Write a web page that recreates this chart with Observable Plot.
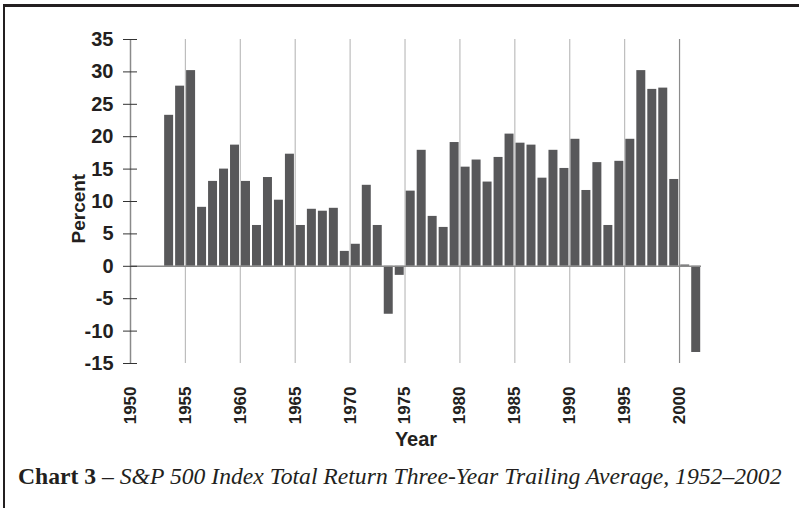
<!DOCTYPE html>
<html><head><meta charset="utf-8">
<script src="https://cdn.jsdelivr.net/npm/d3@7"></script>
<script src="https://cdn.jsdelivr.net/npm/@observablehq/plot@0.6"></script>
<style>
html,body{margin:0;padding:0;background:#fff;}
#wrap{position:relative;width:799px;height:508px;overflow:hidden;}
#frame{position:absolute;left:3px;top:4px;width:820px;height:520px;border-top:3px solid #231f20;border-left:2px solid #231f20;box-sizing:border-box;}
#chart{position:absolute;left:0;top:0;}
#caption{position:absolute;left:18px;top:469px;font-family:"Liberation Serif",serif;font-size:19px;line-height:1;color:#231f20;white-space:nowrap;}
</style></head>
<body><div id="wrap"><div id="chart"></div><div id="frame"></div><div id="caption"><span id="cap"><b>Chart 3</b> – <i>S&amp;P 500 Index Total Return Three-Year Trailing Average, 1952–2002</i></span></div></div>
<script>
// Year = last year of the three-year trailing window
const years = [1954,1955,1956,1957,1958,1959,1960,1961,1962,1963,
  1964,1965,1966,1967,1968,1969,1970,1971,1972,1973,
  1974,1975,1976,1977,1978,1979,1980,1981,1982,1983,
  1984,1985,1986,1987,1988,1989,1990,1991,1992,1993,
  1994,1995,1996,1997,1998,1999,2000,2001,2002];
const returns = [23.3,27.8,30.2,9.1,13.1,15.0,18.7,13.1,6.3,13.7,
  10.2,17.3,6.3,8.8,8.5,8.95,2.3,3.4,12.5,6.3,
  -7.4,-1.4,11.6,17.9,7.7,6.0,19.1,15.3,16.4,13.0,
  16.8,20.4,19.0,18.7,13.6,17.9,15.1,19.6,11.7,16.0,
  6.3,16.2,19.6,30.2,27.3,27.5,13.4,0.2,-13.3];
const xTicks = [1950,1955,1960,1965,1970,1975,1980,1985,1990,1995,2000];
const yTicks = [-15,-10,-5,0,5,10,15,20,25,30,35];
const xLabel = "Year";
const yLabel = "Percent";

const data = years.map((year, i) => ({year, value: returns[i]}));

const chart = Plot.plot({
  width: 799, height: 450,
  marginLeft: 130, marginRight: 98, marginTop: 39, marginBottom: 87,
  x: {domain: [1950, 2002]},
  y: {domain: [-15, 35]},
  style: {fontFamily: "'Liberation Sans', Arial, sans-serif", color: "#231f20", background: "transparent"},
  marks: [
    Plot.ruleX(xTicks.slice(1), {y1: -15, y2: 35, stroke: d => d === 2000 ? "#8c8c8c" : "#bdbdbd", strokeWidth: 1.2}),
    Plot.rect(data, {x1: d => d.year - 1, x2: d => d.year, y1: 0, y2: "value", fill: "#58585a", insetLeft: 1.2, insetRight: 0.8}),
    Plot.ruleY([0], {stroke: "#8a8a8a", strokeWidth: 1.5}),
    Plot.ruleX([1950], {y1: -15, y2: 35, stroke: "#8a8a8a", strokeWidth: 1.5}),
    Plot.axisY({ticks: yTicks, tickSize: 14, dx: 7, tickPadding: 10, tickFormat: d => String(d), fontSize: 20, fontWeight: "bold", stroke: "#333", label: null}),
    Plot.axisX({ticks: xTicks, tickSize: 0, tickRotate: -90, tickPadding: 23, tickFormat: d => String(d), fontSize: 17, fontWeight: "bold", label: null}),
    Plot.text([xLabel], {text: d => d, frameAnchor: "bottom", dy: 76, lineAnchor: "middle", fontSize: 20, fontWeight: "bold"}),
    Plot.text([yLabel], {text: d => d, frameAnchor: "left", dx: -52, dy: 42, rotate: -90, lineAnchor: "middle", fontSize: 19, fontWeight: "bold"})
  ]
});
document.getElementById("chart").appendChild(chart);

// fit caption to the reference width
const cap = document.getElementById("cap");
const capBox = document.getElementById("caption");
const w = cap.getBoundingClientRect().width;
const fs = 19 * 764 / w;
capBox.style.fontSize = fs + "px";
capBox.style.top = (485 - 0.8375 * fs) + "px";
</script>
</body></html>
